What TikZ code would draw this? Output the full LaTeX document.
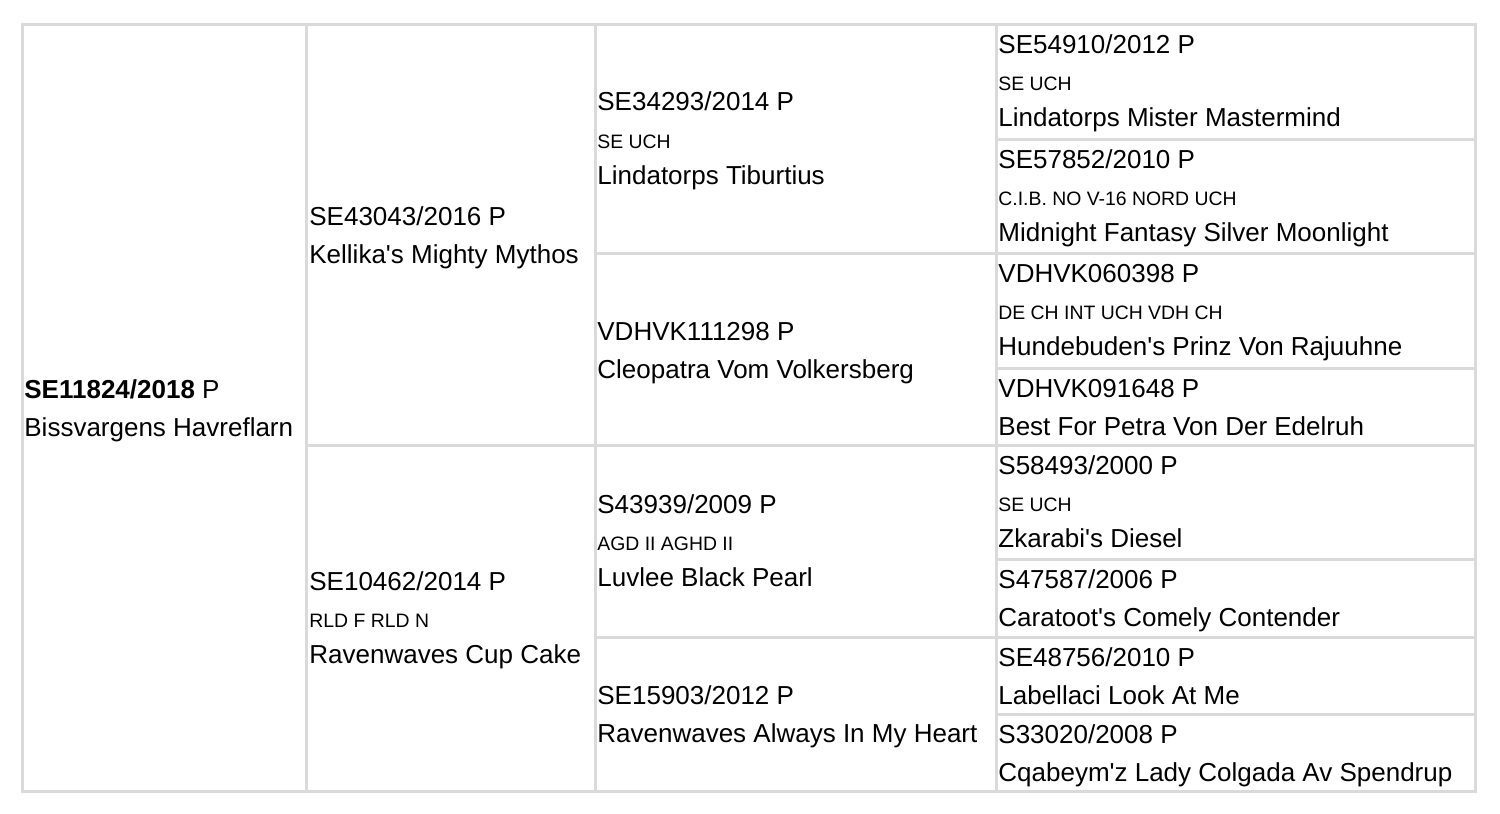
\documentclass[tikz,border=0pt]{standalone}
\usepackage{fontspec}
\setmainfont{Liberation Sans}
\usepackage{xcolor}
\definecolor{gridgray}{HTML}{DADADA}

\newcommand{\dogtwo}[5]{%
\node[regtxt] (#1reg) at (#2,#3) {#4};
\node[regtxt] (#1name) at (#2,#3+38) {#5};
}
\newcommand{\dogthree}[6]{%
\node[regtxt] (#1reg) at (#2,#3) {#4};
\node[titletxt] (#1title) at (#2,#3+37.5) {#5};
\node[regtxt] (#1name) at (#2,#3+73.5) {#6};
}
\newcommand{\ap}{\textquotesingle}

\begin{document}
\begin{tikzpicture}[x=0.5pt, y=-0.5pt,
  regtxt/.style={anchor=base west, inner sep=0pt, font=\fontsize{13}{15}\selectfont},
  titletxt/.style={anchor=base west, inner sep=0pt, font=\fontsize{9.7}{11}\selectfont},
  gridline/.style={gridgray, line width=1.5pt}]

\useasboundingbox (0,0) rectangle (1500,814);

\draw[gridline] (22,24) rectangle (1475,791);
\draw[gridline] (306.5,24) -- (306.5,791);
\draw[gridline] (595,24) -- (595,791);
\draw[gridline] (996,24) -- (996,791);
\draw[gridline] (306.5,445) -- (1475,445);
\draw[gridline] (595,253) -- (1475,253);
\draw[gridline] (595,637) -- (1475,637);
\draw[gridline] (996,139) -- (1475,139);
\draw[gridline] (996,368) -- (1475,368);
\draw[gridline] (996,559) -- (1475,559);
\draw[gridline] (996,714) -- (1475,714);

% dog
\dogtwo{dog}{24}{398.5}{\textbf{SE11824/2018} P}{Bissvargens Havreflarn}

% parents
\dogtwo{sire}{309}{225.5}{SE43043/2016 P}{Kellika\ap s Mighty Mythos}
\dogthree{dam}{309}{590}{SE10462/2014 P}{RLD F RLD N}{Ravenwaves Cup Cake}

% grandparents
\dogthree{ss}{597}{110.5}{SE34293/2014 P}{SE UCH}{Lindatorps Tiburtius}
\dogtwo{sd}{597}{340}{VDHVK111298 P}{Cleopatra Vom Volkersberg}
\dogthree{ds}{597}{513}{S43939/2009 P}{AGD II AGHD II}{Luvlee Black Pearl}
\dogtwo{dd}{597}{704.5}{SE15903/2012 P}{Ravenwaves Always In My Heart}

% great-grandparents
\dogthree{sss}{998}{53}{SE54910/2012 P}{SE UCH}{Lindatorps Mister Mastermind}
\dogthree{ssd}{998}{168}{SE57852/2010 P}{C.I.B. NO V-16 NORD UCH}{Midnight Fantasy Silver Moonlight}
\dogthree{sds}{998}{282}{VDHVK060398 P}{DE CH INT UCH VDH CH}{Hundebuden\ap s Prinz Von Rajuuhne}
\dogtwo{sdd}{998}{397}{VDHVK091648 P}{Best For Petra Von Der Edelruh}
\dogthree{dss}{998}{474}{S58493/2000 P}{SE UCH}{Zkarabi\ap s Diesel}
\dogtwo{dsd}{998}{588}{S47587/2006 P}{Caratoot\ap s Comely Contender}
\dogtwo{dds}{998}{666}{SE48756/2010 P}{Labellaci Look At Me}
\dogtwo{ddd}{998}{743}{S33020/2008 P}{Cqabeym\ap z Lady Colgada Av Spendrup}

\end{tikzpicture}
\end{document}
